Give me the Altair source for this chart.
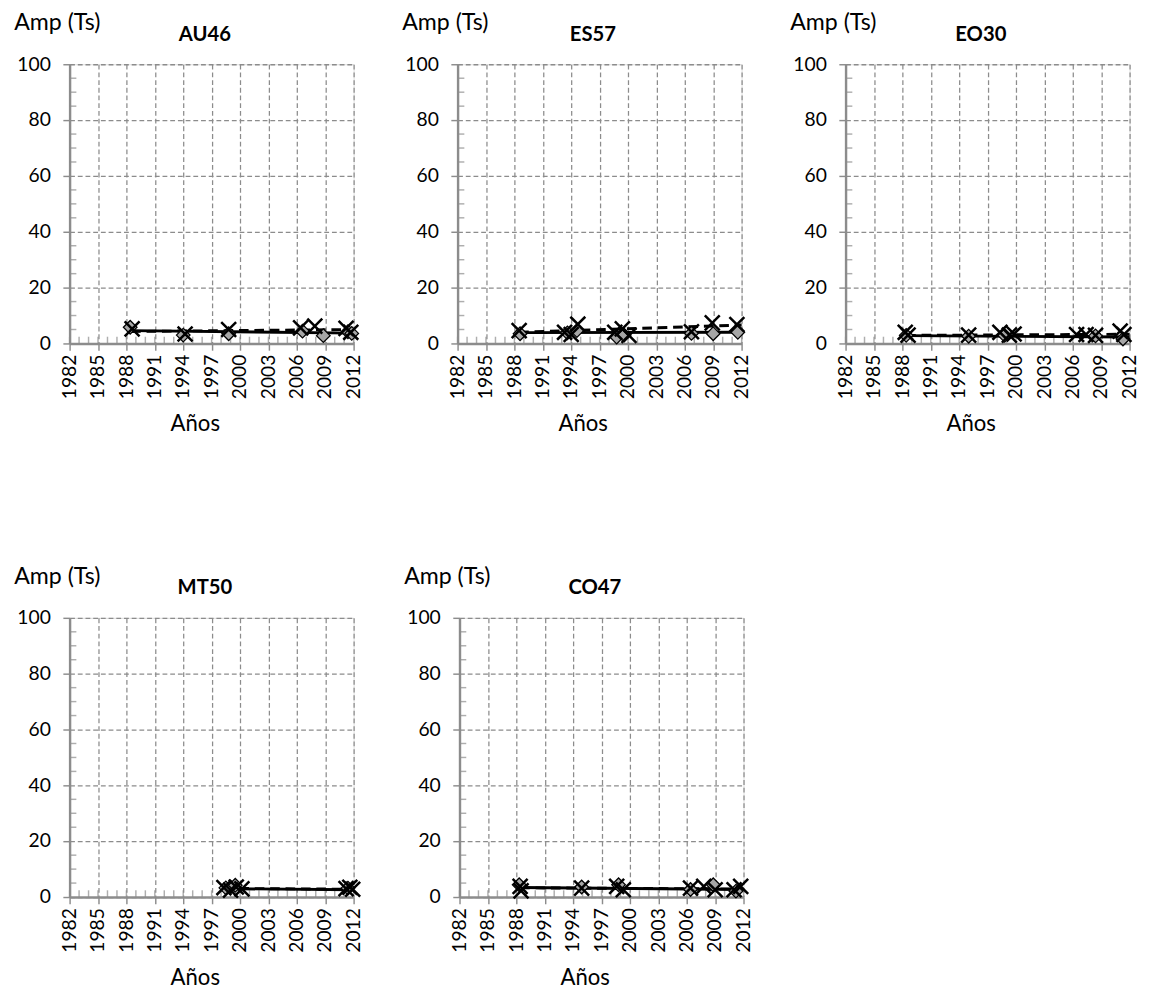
import altair as alt
import pandas as pd

# ---------------- data ----------------
x_ticks = list(range(1982, 2013, 3))
x_minor = list(range(1982, 2013))
y_ticks = [0, 20, 40, 60, 80, 100]
y_minor = [5, 10, 15, 25, 30, 35, 45, 50, 55, 65, 70, 75, 85, 90, 95]

# AU46
au46_dia_years = [1988.4, 1994.0, 1998.8, 2006.6, 2008.8, 2011.4, 2011.8]
au46_dia_vals = [5.8, 3.0, 3.5, 4.4, 2.8, 4.2, 3.6]
au46_x_years = [1988.6, 1994.2, 1998.8, 2006.4, 2007.9, 2011.2, 2011.7]
au46_x_vals = [5.2, 3.4, 5.0, 5.6, 6.2, 5.4, 4.0]
au46_solid_years = [1988.5, 2012.0]
au46_solid_vals = [4.6, 3.7]
au46_dash_years = [1988.5, 2012.0]
au46_dash_vals = [4.3, 5.0]

# ES57
es57_dia_years = [1988.6, 1993.6, 1994.6, 1998.8, 1999.6, 2006.7, 2009.0, 2011.6]
es57_dia_vals = [3.5, 3.8, 4.6, 2.3, 3.0, 3.6, 3.5, 4.0]
es57_x_years = [1988.5, 1993.3, 1994.0, 1994.7, 1998.6, 1999.4, 2000.1, 2006.7, 2008.9, 2011.5]
es57_x_vals = [4.6, 4.0, 3.2, 6.9, 4.0, 5.2, 2.9, 4.2, 7.4, 6.8]
es57_solid_years = [1988.5, 2012.0]
es57_solid_vals = [3.9, 4.0]
es57_dash_years = [1988.5, 2012.0]
es57_dash_vals = [4.0, 6.6]

# EO30
eo30_dia_years = [1988.4, 1995.0, 1998.8, 2008.4, 2011.3]
eo30_dia_vals = [2.9, 2.6, 2.9, 2.7, 1.6]
eo30_x_years = [1988.3, 1988.6, 1995.0, 1998.3, 1999.3, 1999.8, 2006.4, 2007.4, 2008.4, 2011.0, 2011.4]
eo30_x_vals = [4.0, 3.0, 3.0, 4.0, 3.0, 3.4, 3.2, 3.2, 2.9, 4.4, 3.2]
eo30_solid_years = [1988.4, 2012.0]
eo30_solid_vals = [2.8, 2.3]
eo30_dash_years = [1988.4, 2012.0]
eo30_dash_vals = [2.9, 3.3]

# MT50
mt50_dia_years = [1998.5, 1999.5, 2011.4]
mt50_dia_vals = [3.3, 4.2, 3.2]
mt50_x_years = [1998.3, 1999.0, 1999.6, 2000.2, 2011.2, 2011.6, 2011.9]
mt50_x_vals = [3.4, 2.5, 3.6, 2.9, 3.0, 3.5, 2.8]
mt50_solid_years = [1998.3, 2012.0]
mt50_solid_vals = [3.0, 2.6]
mt50_dash_years = [1998.3, 2012.0]
mt50_dash_vals = [3.1, 2.8]

# CO47
co47_dia_years = [1988.3, 1994.9, 1998.8, 2006.4, 2008.8, 2011.2]
co47_dia_vals = [4.4, 3.6, 4.4, 2.7, 4.4, 2.1]
co47_x_years = [1988.4, 1988.5, 1994.9, 1998.6, 1999.3, 2006.4, 2007.8, 2009.0, 2011.0, 2011.7]
co47_x_vals = [3.8, 2.2, 3.2, 3.8, 2.6, 3.2, 3.8, 2.6, 2.6, 3.8]
co47_solid_years = [1988.4, 2012.0]
co47_solid_vals = [3.4, 2.7]
co47_dash_years = [1988.4, 2012.0]
co47_dash_vals = [3.3, 2.9]

# ---------------- style ----------------
GRAY = "#8c8c8c"
FONT = "Lato"
W, H = 295, 290
X_PATH = "M -1 -1 L 1 1 M -1 1 L 1 -1"

x_scale = alt.Scale(domain=[1982, 2012], nice=False, zero=False)
y_scale = alt.Scale(domain=[0, 100], nice=False)

x_axis = alt.Axis(values=x_ticks, labelAngle=270, labelFontSize=20, labelFont=FONT,
                  labelColor="black", tickSize=7, tickColor=GRAY, tickWidth=1.5,
                  domainColor=GRAY, domainWidth=2.5, grid=True, gridDash=[5, 3],
                  gridColor=GRAY, gridWidth=1.3, title="Años", titleFontSize=23,
                  titleFont=FONT, titleFontWeight="normal", titleColor="black",
                  titlePadding=15, labelPadding=4, format="d", titleX=130)
y_axis = alt.Axis(values=y_ticks, labelFontSize=20, labelFont=FONT, labelColor="black",
                  tickSize=7, tickColor=GRAY, tickWidth=1.5, domainColor=GRAY,
                  domainWidth=2.5, grid=True, gridDash=[5, 3], gridColor=GRAY,
                  gridWidth=1.3, title="Amp (Ts)", titleAngle=0, titleAlign="left",
                  titleBaseline="alphabetic", titleX=-58, titleY=-36, titleFontSize=24,
                  titleFont=FONT, titleFontWeight="normal", titleColor="black",
                  labelPadding=13)


def top_axis(name):
    return alt.Axis(orient="top", labels=False, ticks=False, domain=False, grid=False,
                    title=name, titleFontSize=21, titleFontWeight="bold", titleFont=FONT,
                    titleColor="black", titleX=140, titleY=-25,
                    titleBaseline="alphabetic", titleAlign="center")


def Xf(field):
    return alt.X(field, type="quantitative", scale=x_scale, axis=None)


def Yf(field):
    return alt.Y(field, type="quantitative", scale=y_scale, axis=y_axis, title="Amp (Ts)")


def panel(name, dy, dv, xy, xv, sy, sv, ly, lv):
    minor_x = alt.Chart(pd.DataFrame({"year": x_minor})).mark_tick(
        orient="vertical", color=GRAY, size=7, thickness=1.5, yOffset=-3.5
    ).encode(
        x=alt.X("year", type="quantitative", scale=x_scale, axis=x_axis, title="Años"),
        y=alt.YDatum(0, scale=y_scale, axis=y_axis, title="Amp (Ts)"),
    )
    minor_y = alt.Chart(pd.DataFrame({"amp": y_minor})).mark_tick(
        orient="horizontal", color=GRAY, size=7, thickness=1.5, xOffset=3.5
    ).encode(
        y=Yf("amp"),
        x=alt.XDatum(1982, scale=x_scale, axis=top_axis(name), title=name),
    )
    dash = alt.Chart(pd.DataFrame({"year": ly, "amp": lv})).mark_line(
        color="black", strokeWidth=3, strokeDash=[10, 6]
    ).encode(x=Xf("year"), y=Yf("amp"))
    solid = alt.Chart(pd.DataFrame({"year": sy, "amp": sv})).mark_line(
        color="black", strokeWidth=3
    ).encode(x=Xf("year"), y=Yf("amp"))
    dia = alt.Chart(pd.DataFrame({"year": dy, "amp": dv})).mark_point(
        shape="diamond", filled=True, fill="#a6a6a6", stroke="black", strokeWidth=1.3,
        size=200, opacity=1
    ).encode(x=Xf("year"), y=Yf("amp"))
    crs = alt.Chart(pd.DataFrame({"year": xy, "amp": xv})).mark_point(
        shape=X_PATH, filled=False, stroke="black", strokeWidth=2.6, size=240, opacity=1
    ).encode(x=Xf("year"), y=Yf("amp"))
    return alt.layer(minor_x, minor_y, dash, solid, dia, crs).resolve_axis(
        x="independent"
    ).properties(width=W, height=H)


p1 = panel("AU46", au46_dia_years, au46_dia_vals, au46_x_years, au46_x_vals,
           au46_solid_years, au46_solid_vals, au46_dash_years, au46_dash_vals)
p2 = panel("ES57", es57_dia_years, es57_dia_vals, es57_x_years, es57_x_vals,
           es57_solid_years, es57_solid_vals, es57_dash_years, es57_dash_vals)
p3 = panel("EO30", eo30_dia_years, eo30_dia_vals, eo30_x_years, eo30_x_vals,
           eo30_solid_years, eo30_solid_vals, eo30_dash_years, eo30_dash_vals)
p4 = panel("MT50", mt50_dia_years, mt50_dia_vals, mt50_x_years, mt50_x_vals,
           mt50_solid_years, mt50_solid_vals, mt50_dash_years, mt50_dash_vals)
p5 = panel("CO47", co47_dia_years, co47_dia_vals, co47_x_years, co47_x_vals,
           co47_solid_years, co47_solid_vals, co47_dash_years, co47_dash_vals)

row1 = alt.hconcat(p1, p2, p3, spacing=38)
row2 = alt.hconcat(p4, p5, spacing=38)
chart = alt.vconcat(row1, row2, spacing=133).properties(
    padding={"top": -17, "left": 5, "right": 5, "bottom": 5}
).configure_view(
    stroke=GRAY, strokeWidth=1.5
).configure(font=FONT, background="white")

chart.save("out.html", embed_options={"renderer": "svg", "actions": False})
